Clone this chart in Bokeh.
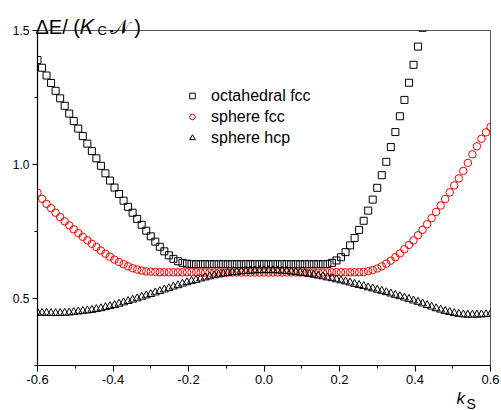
import numpy as np
from bokeh.plotting import figure
from bokeh.models import Range1d, FixedTicker, PrintfTickFormatter, Label, Legend, LegendItem
from bokeh.embed import file_html
from bokeh.resources import INLINE

# ---- data ----
K = np.round(np.linspace(-0.6, 0.6, 101), 3)

OCTA_FCC = [
    1.390, 1.361, 1.332, 1.304, 1.275, 1.247, 1.219, 1.190, 1.162, 1.134,
    1.106, 1.078, 1.050, 1.023, 0.995, 0.967, 0.940, 0.914, 0.890, 0.865,
    0.842, 0.820, 0.797, 0.775, 0.753, 0.732, 0.712, 0.693, 0.676, 0.661,
    0.648, 0.639, 0.633, 0.630, 0.628, 0.628, 0.628, 0.628, 0.628, 0.628,
    0.628, 0.628, 0.628, 0.628, 0.628, 0.628, 0.628, 0.628, 0.628, 0.628,
    0.628, 0.628, 0.628, 0.628, 0.628, 0.628, 0.628, 0.628, 0.628, 0.628,
    0.628, 0.628, 0.628, 0.628, 0.629, 0.633, 0.642, 0.654, 0.673, 0.698,
    0.726, 0.756, 0.790, 0.828, 0.869, 0.913, 0.960, 1.010, 1.065, 1.121,
    1.180, 1.241, 1.305, 1.372, 1.440, 1.510, 1.580,
]

SPHERE_FCC = [
    0.895, 0.872, 0.853, 0.837, 0.820, 0.804, 0.788, 0.773, 0.758, 0.744,
    0.730, 0.717, 0.704, 0.692, 0.679, 0.667, 0.656, 0.645, 0.636, 0.628,
    0.620, 0.613, 0.608, 0.604, 0.601, 0.600, 0.599, 0.598, 0.598, 0.598,
    0.598, 0.598, 0.598, 0.598, 0.598, 0.598, 0.597, 0.597, 0.597, 0.597,
    0.597, 0.597, 0.597, 0.597, 0.597, 0.597, 0.597, 0.597, 0.597, 0.597,
    0.597, 0.597, 0.597, 0.597, 0.597, 0.597, 0.597, 0.597, 0.597, 0.597,
    0.597, 0.597, 0.597, 0.597, 0.597, 0.598, 0.598, 0.598, 0.598, 0.598,
    0.598, 0.598, 0.599, 0.602, 0.606, 0.612, 0.620, 0.630, 0.641, 0.654,
    0.668, 0.684, 0.700, 0.717, 0.736, 0.756, 0.777, 0.800, 0.823, 0.847,
    0.871, 0.896, 0.922, 0.948, 0.976, 1.006, 1.038, 1.068, 1.096, 1.120,
    1.140,
]

SPHERE_HCP = [
    0.447, 0.446, 0.446, 0.445, 0.445, 0.445, 0.446, 0.447, 0.449, 0.451,
    0.453, 0.455, 0.457, 0.460, 0.463, 0.467, 0.471, 0.475, 0.480, 0.485,
    0.490, 0.495, 0.500, 0.506, 0.511, 0.516, 0.522, 0.527, 0.533, 0.538,
    0.544, 0.549, 0.555, 0.560, 0.565, 0.569, 0.574, 0.578, 0.582, 0.586,
    0.589, 0.592, 0.595, 0.597, 0.599, 0.601, 0.602, 0.603, 0.604, 0.605,
    0.605, 0.605, 0.605, 0.604, 0.603, 0.602, 0.600, 0.598, 0.596, 0.594,
    0.591, 0.588, 0.585, 0.582, 0.578, 0.575, 0.571, 0.567, 0.563, 0.559,
    0.554, 0.550, 0.546, 0.541, 0.537, 0.532, 0.528, 0.523, 0.518, 0.513,
    0.508, 0.503, 0.498, 0.492, 0.487, 0.481, 0.475, 0.469, 0.463, 0.458,
    0.453, 0.449, 0.445, 0.442, 0.440, 0.439, 0.439, 0.439, 0.440, 0.441,
    0.442,
]

LABELS = ["octahedral fcc", "sphere fcc", "sphere hcp"]
X_TICKS = [-0.6, -0.4, -0.2, 0.0, 0.2, 0.4, 0.6]
X_MINOR = [-0.5, -0.3, -0.1, 0.1, 0.3, 0.5]
Y_TICKS = [0.5, 1.0, 1.5]
Y_MINOR = [0.25, 0.75, 1.25]

FONT = "Liberation Sans"

p = figure(width=501, height=410, output_backend="svg", toolbar_location=None,
           x_range=Range1d(-0.6, 0.6), y_range=Range1d(0.25, 1.5),
           min_border_left=36, min_border_right=11, min_border_top=30,
           min_border_bottom=45)
p.xgrid.visible = False
p.ygrid.visible = False
p.outline_line_color = "#555555"
p.outline_line_width = 1
p.background_fill_color = "white"
p.border_fill_color = "white"

for ax, ticks, minor in ((p.xaxis[0], X_TICKS, X_MINOR), (p.yaxis[0], Y_TICKS, Y_MINOR)):
    ax.ticker = FixedTicker(ticks=ticks, minor_ticks=minor)
    ax.formatter = PrintfTickFormatter(format="%.1f")
    ax.axis_line_color = "black"
    ax.axis_line_width = 1.2
    ax.major_tick_line_color = "black"
    ax.minor_tick_line_color = "black"
    ax.major_tick_in = 0
    ax.minor_tick_in = 0
    ax.major_label_text_font = FONT
    ax.major_label_text_color = "black"

p.xaxis.major_label_text_font_size = "13px"
p.yaxis.major_label_text_font_size = "12px"
p.xaxis.major_tick_out = 6
p.xaxis.minor_tick_out = 3
p.xaxis.major_label_standoff = 3
p.yaxis.major_tick_out = 5
p.yaxis.minor_tick_out = 3
p.yaxis.major_label_standoff = 3

n_oct = len(OCTA_FCC)
r1 = p.scatter(K[:n_oct], OCTA_FCC, marker="square", size=7, fill_color=None,
               line_color="black", line_width=1)
r2 = p.scatter(K, SPHERE_FCC, marker="circle", size=7.5, fill_color=None,
               line_color="red", line_width=1)
r3 = p.scatter(K, SPHERE_HCP, marker="triangle", size=8, fill_color=None,
               line_color="black", line_width=1)

legend = Legend(items=[LegendItem(label=LABELS[0], renderers=[r1]),
                       LegendItem(label=LABELS[1], renderers=[r2]),
                       LegendItem(label=LABELS[2], renderers=[r3])],
                location=(148, 217))
legend.padding = 0
legend.margin = 0
legend.spacing = 0
legend.label_height = 21
legend.glyph_height = 21
legend.glyph_width = 14
legend.label_standoff = 12
legend.label_text_font = FONT
legend.label_text_font_size = "16px"
legend.label_text_color = "black"
legend.border_line_alpha = 0
legend.background_fill_alpha = 0
p.add_layout(legend, "center")

def lab(text, x, y, size, side, style="normal"):
    p.add_layout(Label(x=x, y=y, x_units="canvas", y_units="canvas", text=text,
                       text_font=FONT, text_font_size=size, text_font_style=style,
                       text_color="black", text_baseline="alphabetic", text_align="left"),
                 side)

# y-axis title: ΔE/ (K_C 𝒩)  (one label per side panel so the frame does not move;
# no-break spaces leave room for the subscript C, as SVG collapses plain spaces)
lab("ΔE/ (𝐾\u00a0\u00a0\u00a0𝒩 )", 35, 26, "20px", "above")
lab("C", 97, 30, "13px", "left")
# x-axis title: k_S
lab("k", 456, 398, "17px", "below", "italic")
lab("S", 466, 403, "14px", "right")

open("out.html", "w").write(file_html(p, INLINE))
